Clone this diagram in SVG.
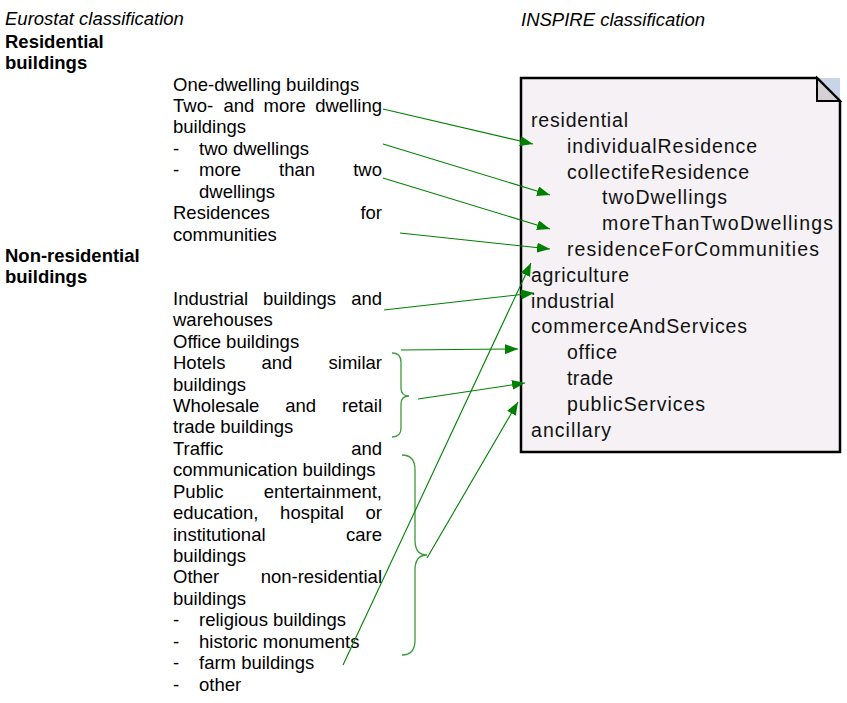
<svg xmlns="http://www.w3.org/2000/svg" width="847" height="703" viewBox="0 0 847 703">
<style>
.t{font-family:"Liberation Sans",Arial,sans-serif;font-size:18.5px;fill:#000}
.b{font-weight:bold}
.i{font-style:italic}
.n{font-family:"Liberation Sans",Arial,sans-serif;font-size:19.5px;fill:#111}
.e{text-anchor:end}
.c{fill:none;stroke:#008000;stroke-width:1.1;marker-end:url(#ah)}
.br{fill:none;stroke:#3c9a3c;stroke-width:1.3}
</style>
<defs>
<marker id="ah" markerUnits="userSpaceOnUse" markerWidth="14" markerHeight="10" refX="13" refY="5" orient="auto">
<path d="M0,0 L13,5 L0,10 Z" fill="#008000"/>
</marker>
</defs>
<rect width="847" height="703" fill="#fff"/>

<g id="headings">
<text class="t i" x="5" y="24.5">Eurostat classification</text>
<text class="t i" x="521" y="25.5">INSPIRE classification</text>
<text class="t b" x="5" y="47.6">Residential</text>
<text class="t b" x="5" y="69.1">buildings</text>
<text class="t b" x="5" y="261.9">Non-residential</text>
<text class="t b" x="5" y="283.4">buildings</text>
</g>

<g id="eurostat-list">
<text class="t" x="173" y="90.5">One-dwelling buildings</text>
<text class="t" x="173" y="111.9">Two-</text>
<text class="t" x="223.4" y="111.9">and</text>
<text class="t" x="263.6" y="111.9">more</text>
<text class="t e" x="382" y="111.9">dwelling</text>
<text class="t" x="173" y="133.4">buildings</text>
<text class="t" x="173" y="154.8">-</text>
<text class="t" x="199" y="154.8">two dwellings</text>
<text class="t" x="173" y="176.2">-</text>
<text class="t" x="199" y="176.2">more</text>
<text class="t" x="279" y="176.2">than</text>
<text class="t e" x="382" y="176.2">two</text>
<text class="t" x="199" y="197.6">dwellings</text>
<text class="t" x="173" y="219.1">Residences</text>
<text class="t e" x="382" y="219.1">for</text>
<text class="t" x="173" y="240.5">communities</text>
<text class="t" x="173" y="304.8">Industrial</text>
<text class="t" x="263" y="304.8">buildings</text>
<text class="t e" x="382" y="304.8">and</text>
<text class="t" x="173" y="326.2">warehouses</text>
<text class="t" x="173" y="347.7">Office buildings</text>
<text class="t" x="173" y="369.1">Hotels</text>
<text class="t" x="261.5" y="369.1">and</text>
<text class="t e" x="382" y="369.1">similar</text>
<text class="t" x="173" y="390.5">buildings</text>
<text class="t" x="173" y="411.9">Wholesale</text>
<text class="t" x="285.2" y="411.9">and</text>
<text class="t e" x="382" y="411.9">retail</text>
<text class="t" x="173" y="433.4">trade buildings</text>
<text class="t" x="173" y="454.8">Traffic</text>
<text class="t e" x="382" y="454.8">and</text>
<text class="t" x="173" y="476.2">communication buildings</text>
<text class="t" x="173" y="497.7">Public</text>
<text class="t e" x="382" y="497.7">entertainment,</text>
<text class="t" x="173" y="519.1">education,</text>
<text class="t" x="280.1" y="519.1">hospital</text>
<text class="t e" x="382" y="519.1">or</text>
<text class="t" x="173" y="540.5">institutional</text>
<text class="t e" x="382" y="540.5">care</text>
<text class="t" x="173" y="561.9">buildings</text>
<text class="t" x="173" y="583.4">Other</text>
<text class="t e" x="382" y="583.4">non-residential</text>
<text class="t" x="173" y="604.8">buildings</text>
<text class="t" x="173" y="626.2">-</text>
<text class="t" x="199" y="626.2">religious buildings</text>
<text class="t" x="173" y="647.7">-</text>
<text class="t" x="199" y="647.7">historic monuments</text>
<text class="t" x="173" y="669.1">-</text>
<text class="t" x="199" y="669.1">farm buildings</text>
<text class="t" x="173" y="690.5">-</text>
<text class="t" x="199" y="690.5">other</text>
</g>

<g id="inspire-note">
<polygon points="817,78 840,78 840,101" fill="#c8d4e8"/>
<path d="M521,78 L817,78 L840,101 L840,452 L521,452 Z" fill="#f5f1f5" stroke="#000" stroke-width="2.5"/>
<polygon points="817,78 817,101 840,101" fill="#d6d0d4" stroke="#000" stroke-width="2"/>
<text class="n" x="531" y="127" textLength="97" lengthAdjust="spacing">residential</text>
<text class="n" x="567" y="152.8" textLength="190" lengthAdjust="spacing">individualResidence</text>
<text class="n" x="567" y="178.6" textLength="182" lengthAdjust="spacing">collectifeResidence</text>
<text class="n" x="602" y="204.4" textLength="125" lengthAdjust="spacing">twoDwellings</text>
<text class="n" x="602" y="230.2" textLength="231" lengthAdjust="spacing">moreThanTwoDwellings</text>
<text class="n" x="567" y="256" textLength="252" lengthAdjust="spacing">residenceForCommunities</text>
<text class="n" x="531" y="281.8" textLength="98" lengthAdjust="spacing">agriculture</text>
<text class="n" x="531" y="307.6" textLength="83" lengthAdjust="spacing">industrial</text>
<text class="n" x="531" y="333.4" textLength="216" lengthAdjust="spacing">commerceAndServices</text>
<text class="n" x="567" y="359.2" textLength="50" lengthAdjust="spacing">office</text>
<text class="n" x="567" y="385" textLength="46" lengthAdjust="spacing">trade</text>
<text class="n" x="567" y="410.8" textLength="138" lengthAdjust="spacing">publicServices</text>
<text class="n" x="531" y="436.6" textLength="80" lengthAdjust="spacing">ancillary</text>
</g>

<g id="braces">
<path class="br" d="M392,353 Q401,353 401,362 L401,388 Q401,396 409,396 Q401,396 401,404 L401,428 Q401,437 392,437"/>
<path class="br" d="M402,455 Q415,455 415,470 L415,540 Q415,555 427,555 Q415,555 415,570 L415,640 Q415,655 402,655"/>
</g>

<g id="connectors">
<line class="c" x1="383" y1="109" x2="533" y2="144"/>
<line class="c" x1="383" y1="144" x2="550" y2="195"/>
<line class="c" x1="383" y1="178" x2="550" y2="229"/>
<line class="c" x1="400" y1="233" x2="550" y2="249"/>
<line class="c" x1="384" y1="310" x2="534" y2="293"/>
<line class="c" x1="401" y1="350" x2="518" y2="349"/>
<line class="c" x1="418" y1="399" x2="525" y2="383"/>
<line class="c" x1="343" y1="665" x2="531" y2="263"/>
<line class="c" x1="427" y1="558" x2="518" y2="402"/>
</g>
</svg>
